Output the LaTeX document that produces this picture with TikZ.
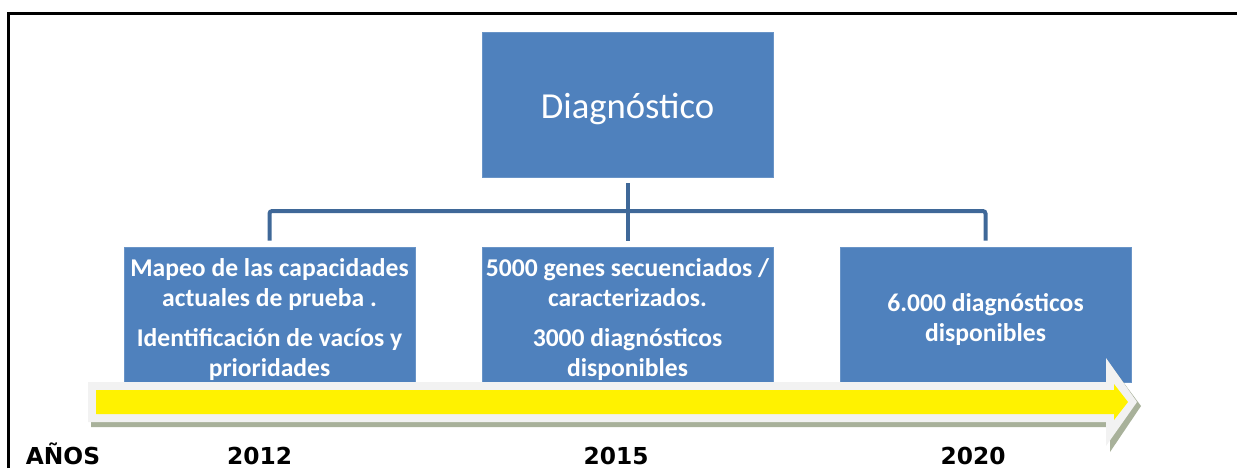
\documentclass[tikz,border=0pt]{standalone}
\usepackage{fontspec}
\setmainfont{Carlito}
\newfontfamily\yearfont{DejaVu Sans}
\tikzset{
every picture/.style={
line width=1pt
}}
\definecolor{boxblue}{HTML}{4F81BD}
\definecolor{linkblue}{HTML}{3F6898}
\definecolor{arrowgray}{HTML}{F2F2F2}
\definecolor{shadowgreen}{HTML}{A8B19A}
\newcommand{\boxstrut}[1][21.5pt]{\rule{0pt}{#1}}

\begin{document}
\begin{tikzpicture}[x=0.75pt, y=-0.75pt,
block/.style = {rectangle, fill=boxblue, draw=boxblue!85!white, line width=0.5pt, text=white, align=center, inner sep=0pt, minimum width=218.25pt, minimum height=101.25pt, font=\bfseries\fontsize{19.2}{22.5}\selectfont},
link/.style = {draw=linkblue, line width=3pt, rounded corners=2pt, shorten <=4.5pt, shorten >=4.5pt},
year/.style = {anchor=base, font=\yearfont\bfseries\fontsize{17.5}{20}\selectfont}]
\useasboundingbox (0,0) rectangle (1237,468);
\draw[line width=2.25pt] (8,468) -- (8,13) -- (1237,13);

\node[block, minimum height=108.75pt, font=\fontsize{27.5}{33}\selectfont] at (627.5,104.5) (dg) {\boxstrut[26pt]Diagnóstico};
\node[block] at (269.5,314.5) (m1) {\boxstrut Mapeo de las capacidades\\actuales de prueba .\\[7.5pt]Identificación de vacíos y\\prioridades};
\node[block] at (627.5,314.5) (m2) {\boxstrut 5000 genes secuenciados /\\caracterizados.\\[7.5pt]3000 diagnósticos\\disponibles};
\node[block] at (985.5,314.5) (m3) {\boxstrut 6.000 diagnósticos\\disponibles};

\coordinate (bar) at (627.5,211);
\draw[link] (dg) -- (m2);
\draw[link] (m1.north) |- (bar) -| (m3.north);

% time arrow
\fill[shadowgreen] (91,387) -- (1109,387) -- (1109,363) -- (1141,406) -- (1110,452) -- (1110,427) -- (91,427) -- cycle;
\fill[arrowgray] (88,382) -- (1106,382) -- (1106,358) -- (1137,402) -- (1106,446) -- (1106,422) -- (88,422) -- cycle;
\fill[yellow] (96,390) -- (1114,390) -- (1114,384) -- (1128,402) -- (1114,420) -- (1114,414) -- (96,414) -- cycle;

\node[year] at (63,464) (y0) {AÑOS};
\node[year] at (259.5,464) (y1) {2012};
\node[year] at (616,464) (y2) {2015};
\node[year] at (973,464) (y3) {2020};
\end{tikzpicture}
\end{document}
